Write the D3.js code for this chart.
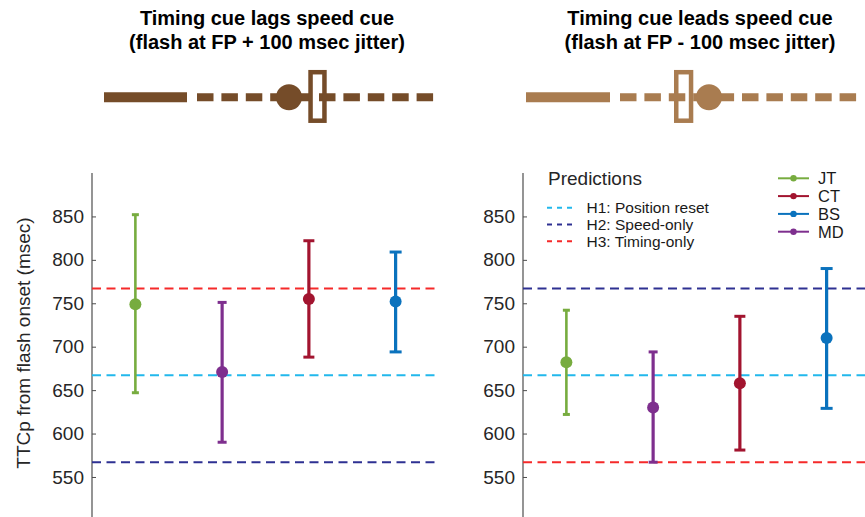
<!DOCTYPE html>
<html>
<head>
<meta charset="utf-8">
<script src="https://cdn.jsdelivr.net/npm/d3@7"></script>
<style>
  html, body { margin: 0; padding: 0; background: #fff; }
  svg { display: block; font-family: "Liberation Sans", Arial, Helvetica, sans-serif; }
</style>
</head>
<body>
<svg id="chart" width="865" height="517"></svg>
<script>
// Subjects in plotting order along each panel
const subjects = ["JT", "MD", "CT", "BS"];
const legendOrder = ["JT", "CT", "BS", "MD"];

// Timing cue lags speed cue (flash at FP + 100 msec jitter)
const lagMean = [749, 671, 755, 752];
const lagLow  = [647, 590, 688, 694];
const lagHigh = [852, 751, 822, 809];

// Timing cue leads speed cue (flash at FP - 100 msec jitter)
const leadMean = [682, 630, 658, 710];
const leadLow  = [622, 567, 581, 629];
const leadHigh = [742, 694, 735, 790];

// Hypothesis predictions (msec)
const hypNames = ["H1: Position reset", "H2: Speed-only", "H3: Timing-only"];
const lagHyp  = [667, 567, 767];
const leadHyp = [667, 767, 567];

const yTicks = [550, 600, 650, 700, 750, 800, 850];

const subjectColor = { JT: "#77ac3f", MD: "#7e2f8e", CT: "#a2142f", BS: "#0a72bd" };
const capHalf = { JT: 3.5, MD: 4.5, CT: 5.5, BS: 6 };
const hypColor = ["#22b8ec", "#2e3192", "#f52a2a"];

const svg = d3.select("#chart");

const y = d3.scaleLinear().domain([500, 900]).range([520.4, 173]);

function panel(axisX, mean, low, high, hyp) {
  const x = d3.scaleLinear().domain([0, 4]).range([axisX, axisX + 347]);
  const g = svg.append("g");

  // axis
  const axis = d3.axisLeft(y).tickValues(yTicks).tickSize(-4).tickPadding(8).tickSizeOuter(0);
  const ag = g.append("g").attr("transform", `translate(${axisX},0)`).call(axis);
  ag.select(".domain").attr("stroke", "#4d4d4d").attr("stroke-width", 1.2)
    .attr("d", `M0,${y(900)}V517`);
  ag.selectAll(".tick line").attr("stroke", "#4d4d4d");
  ag.selectAll(".tick text").attr("fill", "#262626").attr("font-size", 19)
    .attr("font-family", "\"Liberation Sans\", Arial, sans-serif");

  // prediction lines
  g.selectAll("line.hyp").data(hyp).enter().append("line")
    .attr("class", "hyp")
    .attr("x1", x(0)).attr("x2", x(4))
    .attr("y1", d => y(d)).attr("y2", d => y(d))
    .attr("stroke", (d, i) => hypColor[i])
    .attr("stroke-width", 2)
    .attr("stroke-dasharray", "9,5.5");

  // error bars
  subjects.forEach((s, i) => {
    const cx = x(i + 0.5);
    const c = subjectColor[s];
    const sg = g.append("g");
    sg.append("line").attr("x1", cx).attr("x2", cx)
      .attr("y1", y(low[i])).attr("y2", y(high[i]))
      .attr("stroke", c).attr("stroke-width", s === "JT" ? 2.6 : 3.2);
    [low[i], high[i]].forEach(v => {
      sg.append("line").attr("x1", cx - capHalf[s]).attr("x2", cx + capHalf[s])
        .attr("y1", y(v)).attr("y2", y(v))
        .attr("stroke", c).attr("stroke-width", 3);
    });
    sg.append("circle").attr("cx", cx).attr("cy", y(mean[i])).attr("r", 6).attr("fill", c);
  });
}

panel(92, lagMean, lagLow, lagHigh, lagHyp);
panel(523, leadMean, leadLow, leadHigh, leadHyp);

// y-axis title
svg.append("text")
  .attr("transform", "translate(29.5,343) rotate(-90)")
  .attr("text-anchor", "middle")
  .attr("font-size", 19).attr("fill", "#262626")
  .text("TTCp from flash onset (msec)");

// panel titles
function title(cx, lines) {
  const t = svg.append("text").attr("text-anchor", "middle")
    .attr("font-weight", "bold").attr("font-size", 20).attr("fill", "#000");
  lines.forEach((l, i) => t.append("tspan").attr("x", cx).attr("y", 25 + i * 23.5).text(l));
}
title(267, ["Timing cue lags speed cue", "(flash at FP + 100 msec jitter)"]);
title(700, ["Timing cue leads speed cue", "(flash at FP - 100 msec jitter)"]);

// cue schematic: solid bar, dashed path, speed cue (disc), timing cue (box)
function schematic(color, barX0, barX1, dashX0, dashX1, discX, boxX0, boxX1) {
  const g = svg.append("g");
  const cy = 97.3;
  g.append("line").attr("x1", barX0).attr("x2", barX1).attr("y1", cy).attr("y2", cy)
    .attr("stroke", color).attr("stroke-width", 10);
  g.append("line").attr("x1", dashX0).attr("x2", dashX1).attr("y1", cy).attr("y2", cy)
    .attr("stroke", color).attr("stroke-width", 8).attr("stroke-dasharray", "16.5,7.9");
  g.append("rect").attr("x", boxX0 + 2.25).attr("y", 72.2)
    .attr("width", boxX1 - boxX0 - 4.5).attr("height", 48.5)
    .attr("fill", "none").attr("stroke", color).attr("stroke-width", 4.5);
  g.append("circle").attr("cx", discX).attr("cy", cy).attr("r", 13).attr("fill", color);
}
schematic("#754c29", 104, 187, 197, 433.5, 289, 308.3, 326.7);
schematic("#a97c50", 526, 610, 620, 856.5, 709, 674, 693.3);

// legend: predictions
const lg = svg.append("g");
lg.append("text").attr("x", 548).attr("y", 185).attr("font-size", 19)
  .attr("fill", "#262626").text("Predictions");
hypNames.forEach((n, i) => {
  const yy = 207.7 + i * 16.8;
  lg.append("line").attr("x1", 547).attr("x2", 577).attr("y1", yy).attr("y2", yy)
    .attr("stroke", hypColor[i]).attr("stroke-width", 2).attr("stroke-dasharray", "5,5");
  lg.append("text").attr("x", 586.5).attr("y", yy + 5.2).attr("font-size", 15.5)
    .attr("fill", "#1a1a1a").text(n);
});

// legend: subjects
legendOrder.forEach((s, i) => {
  const yy = 178.3 + i * 17.8;
  lg.append("line").attr("x1", 778).attr("x2", 809).attr("y1", yy).attr("y2", yy)
    .attr("stroke", subjectColor[s]).attr("stroke-width", 2);
  lg.append("circle").attr("cx", 793.5).attr("cy", yy).attr("r", 3.2).attr("fill", subjectColor[s]);
  lg.append("text").attr("x", 818).attr("y", yy + 6).attr("font-size", 16.5)
    .attr("fill", "#1a1a1a").text(s);
});
</script>
</body>
</html>
